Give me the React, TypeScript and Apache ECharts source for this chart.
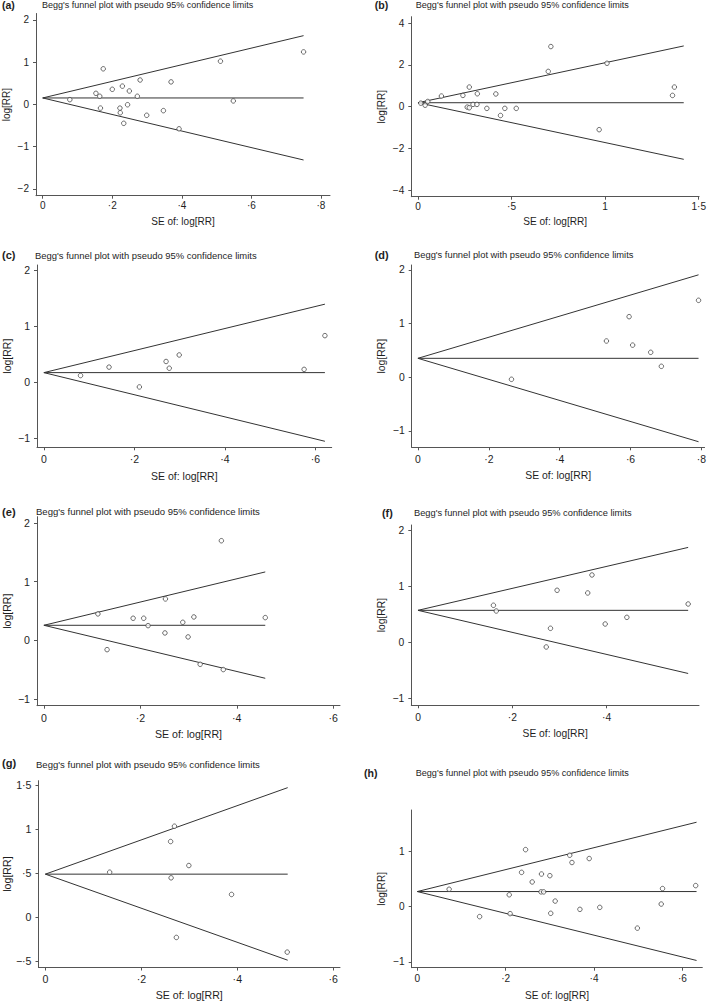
import React, { useEffect, useRef } from "react";
import * as echarts from "echarts";

const panelLabels = ["(a)", "(b)", "(c)", "(d)", "(e)", "(f)", "(g)", "(h)"];
const titleText = "Begg's funnel plot with pseudo 95% confidence limits";
const xAxisTitle = "SE of: log[RR]";
const yAxisTitle = "log[RR]";

// Study points: standard error and log[RR] per panel
const seA = [0.078, 0.174, 0.153, 0.164, 0.166, 0.2, 0.229, 0.249, 0.222, 0.223, 0.244, 0.233, 0.272, 0.28, 0.299, 0.369, 0.347, 0.392, 0.511, 0.548, 0.75];
const logRRA = [0.11, 0.84, 0.26, 0.19, -0.09, 0.355, 0.43, 0.315, -0.09, -0.2, -0.01, -0.45, 0.19, 0.575, -0.26, 0.53, -0.15, -0.58, 1.02, 0.08, 1.24];

const seB = [0.015, 0.038, 0.052, 0.125, 0.24, 0.274, 0.263, 0.274, 0.294, 0.315, 0.317, 0.368, 0.416, 0.441, 0.464, 0.525, 0.696, 0.71, 0.968, 1.01, 1.36, 1.37];
const logRRB = [0.17, 0.07, 0.25, 0.51, 0.54, 0.94, -0.02, -0.05, 0.11, 0.11, 0.62, -0.08, 0.61, -0.42, -0.08, -0.08, 1.69, 2.88, -1.1, 2.08, 0.54, 0.94];

const seC = [0.081, 0.144, 0.211, 0.27, 0.277, 0.299, 0.575, 0.621];
const logRRC = [0.12, 0.27, -0.083, 0.37, 0.25, 0.486, 0.23, 0.83];

const seD = [0.264, 0.532, 0.596, 0.606, 0.657, 0.687, 0.792];
const logRRD = [-0.037, 0.677, 1.13, 0.6, 0.466, 0.205, 1.435];

const seE = [0.112, 0.131, 0.185, 0.207, 0.216, 0.252, 0.251, 0.288, 0.311, 0.299, 0.324, 0.368, 0.372, 0.459];
const logRRE = [0.45, -0.16, 0.376, 0.376, 0.25, 0.706, 0.125, 0.307, 0.398, 0.057, -0.41, 1.7, -0.5, 0.387];

const seF = [0.16, 0.166, 0.272, 0.281, 0.295, 0.36, 0.369, 0.397, 0.443, 0.573];
const logRRF = [0.667, 0.565, -0.077, 0.256, 0.935, 0.887, 1.208, 0.333, 0.452, 0.69];

const seG = [0.134, 0.261, 0.269, 0.262, 0.273, 0.299, 0.388, 0.504];
const logRRG = [0.511, 0.86, 1.034, 0.447, -0.231, 0.587, 0.258, -0.398];

const seH = [0.072, 0.141, 0.208, 0.21, 0.236, 0.245, 0.26, 0.281, 0.28, 0.286, 0.3, 0.302, 0.312, 0.345, 0.35, 0.368, 0.389, 0.413, 0.498, 0.552, 0.555, 0.63];
const logRRH = [0.317, -0.18, 0.216, -0.126, 0.623, 1.036, 0.449, 0.593, 0.269, 0.269, 0.563, -0.12, 0.102, 0.934, 0.802, -0.048, 0.874, -0.012, -0.389, 0.048, 0.329, 0.383];

const seList = [seA, seB, seC, seD, seE, seF, seG, seH];
const logRRList = [logRRA, logRRB, logRRC, logRRD, logRRE, logRRF, logRRG, logRRH];

// Funnel (pseudo 95% limits)
const funnelCenter = [0.15, 0.19, 0.172, 0.354, 0.256, 0.577, 0.489, 0.275];
const funnelSeMax = [0.75, 1.42, 0.621, 0.792, 0.459, 0.573, 0.505, 0.632];
const funnelUpper = [1.625, 2.91, 1.39, 1.91, 1.167, 1.7, 1.473, 1.533];
const funnelLower = [-1.318, -2.52, -1.05, -1.2, -0.649, -0.55, -0.49, -0.976];

// Tick values
const xTicks = [
  [0, 0.2, 0.4, 0.6, 0.8],
  [0, 0.5, 1, 1.5],
  [0, 0.2, 0.4, 0.6],
  [0, 0.2, 0.4, 0.6, 0.8],
  [0, 0.2, 0.4, 0.6],
  [0, 0.2, 0.4],
  [0, 0.2, 0.4, 0.6],
  [0, 0.2, 0.4, 0.6],
];
const yTicks = [
  [-2, -1, 0, 1, 2],
  [-4, -2, 0, 2, 4],
  [-1, 0, 1, 2],
  [-1, 0, 1, 2],
  [-1, 0, 1, 2],
  [-1, 0, 1, 2],
  [-0.5, 0, 0.5, 1, 1.5],
  [-1, 0, 1],
];

// Layout (pixels) and axis ranges
const layout = [
  { left: 32.5, top: 13.5, width: 297.5, height: 182.2, xMin: -0.0193, xMax: 0.826, yMin: -2.163, yMax: 2.149, fs: 1.0, label: [2, 5], title: [42, 5], xm: 5, xg: 20.3 },
  { left: 411.3, top: 16.7, width: 288, height: 180, xMin: -0.0358, xMax: 1.502, yMin: -4.31, yMax: 4.31, fs: 1.01, label: [374.7, 5], title: [415.7, 5], xm: 5, xg: 20 },
  { left: 32.3, top: 265, width: 299.4, height: 182.3, xMin: -0.0152, xMax: 0.636, yMin: -1.157, yMax: 2.087, fs: 1.05, label: [2, 255], title: [35, 255], xm: 6.5, xg: 22.9 },
  { left: 411.7, top: 265, width: 296.3, height: 182.3, xMin: -0.0176, xMax: 0.809, yMin: -1.304, yMax: 2.093, fs: 1.04, label: [374.7, 255], title: [414, 255], xm: 6.7, xg: 23.2 },
  { left: 32.3, top: 516.7, width: 307.7, height: 189, xMin: -0.0143, xMax: 0.614, yMin: -1.117, yMax: 2.11, fs: 1.06, label: [2, 511.7], title: [36, 511.7], xm: 6.4, xg: 22.4 },
  { left: 411.3, top: 525, width: 287.7, height: 180.3, xMin: -0.0142, xMax: 0.596, yMin: -1.118, yMax: 2.1, fs: 1.03, label: [382, 513], title: [414, 512.7], xm: 6.8, xg: 22.8 },
  { left: 32.3, top: 780.7, width: 307.7, height: 187, xMin: -0.0143, xMax: 0.614, yMin: -0.573, yMax: 1.552, fs: 1.06, label: [2, 763], title: [36, 764], xm: 5.5, xg: 21.5 },
  { left: 411.7, top: 810, width: 290.6, height: 159.3, xMin: -0.0127, xMax: 0.645, yMin: -1.107, yMax: 1.755, fs: 1.01, label: [364, 773], title: [415.7, 773.3], xm: 5.7, xg: 22.3 },
];

const FONT = "'Liberation Sans', Arial, Helvetica, sans-serif";
const TEXT = "#1e1e1e";
const AXIS = "#555";
const LINE = "#333";

function stataLabel(v: number): string {
  if (v === 0) return "0";
  const neg = v < 0;
  let s = String(+Math.abs(v).toFixed(2));
  if (s.startsWith("0.")) s = s.slice(1);
  s = s.replace(".", "·");
  return (neg ? "−" : "") + s;
}

function buildOption() {
  const grid: any[] = [];
  const xAxis: any[] = [];
  const yAxis: any[] = [];
  const series: any[] = [];
  const graphic: any[] = [];

  layout.forEach((L, i) => {
    const tickFs = 10 * L.fs;
    grid.push({ left: L.left, top: L.top, width: L.width, height: L.height, containLabel: false });
    xAxis.push({
      type: "value",
      gridIndex: i,
      min: L.xMin,
      max: L.xMax,
      name: xAxisTitle,
      nameLocation: "middle",
      nameGap: L.xg,
      nameTextStyle: { fontSize: tickFs, fontFamily: FONT, color: TEXT },
      axisLine: { show: true, onZero: false, lineStyle: { color: AXIS, width: 1 } },
      axisTick: { show: true, length: 3, customValues: xTicks[i], lineStyle: { color: AXIS, width: 1 } },
      axisLabel: {
        customValues: xTicks[i],
        formatter: (v: number) => stataLabel(v),
        margin: L.xm,
        fontSize: tickFs,
        fontFamily: FONT,
        color: TEXT,
      },
      splitLine: { show: false },
    });
    yAxis.push({
      type: "value",
      gridIndex: i,
      min: L.yMin,
      max: L.yMax,
      name: yAxisTitle,
      nameLocation: "middle",
      nameGap: 25,
      nameTextStyle: { fontSize: tickFs, fontFamily: FONT, color: TEXT },
      axisLine: { show: true, onZero: false, lineStyle: { color: AXIS, width: 1 } },
      axisTick: { show: true, length: 3, customValues: yTicks[i], lineStyle: { color: AXIS, width: 1 } },
      axisLabel: {
        customValues: yTicks[i],
        formatter: (v: number) => stataLabel(v),
        margin: 7,
        fontSize: tickFs,
        fontFamily: FONT,
        color: TEXT,
      },
      splitLine: { show: false },
    });

    const c = funnelCenter[i];
    const m = funnelSeMax[i];
    const lineCommon = {
      type: "line",
      xAxisIndex: i,
      yAxisIndex: i,
      showSymbol: false,
      symbol: "none",
      silent: true,
      lineStyle: { color: LINE, width: 1 },
      z: 2,
    };
    series.push({ ...lineCommon, data: [[0, c], [m, funnelUpper[i]]] });
    series.push({ ...lineCommon, data: [[0, c], [m, funnelLower[i]]] });
    series.push({ ...lineCommon, data: [[0, c], [m, c]] });
    series.push({
      type: "scatter",
      xAxisIndex: i,
      yAxisIndex: i,
      symbol: "circle",
      symbolSize: 4.5,
      itemStyle: { color: "#ffffff", borderColor: "#333", borderWidth: 0.9 },
      data: seList[i].map((s, j) => [s, logRRList[i][j]]),
      z: 3,
    });

    graphic.push({
      type: "text",
      x: L.label[0],
      y: L.label[1],
      style: {
        text: panelLabels[i],
        fontSize: 10.5 * L.fs,
        fontWeight: "bold",
        fontFamily: FONT,
        fill: TEXT,
        verticalAlign: "middle",
        align: "left",
      },
    });
    graphic.push({
      type: "text",
      x: L.title[0],
      y: L.title[1],
      style: {
        text: titleText,
        fontSize: 9 * L.fs,
        fontFamily: FONT,
        fill: TEXT,
        verticalAlign: "middle",
        align: "left",
      },
    });
  });

  return {
    animation: false,
    backgroundColor: "#ffffff",
    grid,
    xAxis,
    yAxis,
    series,
    graphic,
  };
}

export default function App() {
  const ref = useRef<HTMLDivElement>(null);
  useEffect(() => {
    if (!ref.current) return;
    const chart = echarts.init(ref.current, undefined, { renderer: "svg" });
    chart.setOption(buildOption() as any);
    return () => {
      chart.dispose();
    };
  }, []);
  return (
    <div
      ref={ref}
      style={{ position: "absolute", left: 0, top: 0, width: 709, height: 1001, background: "#fff" }}
    />
  );
}
